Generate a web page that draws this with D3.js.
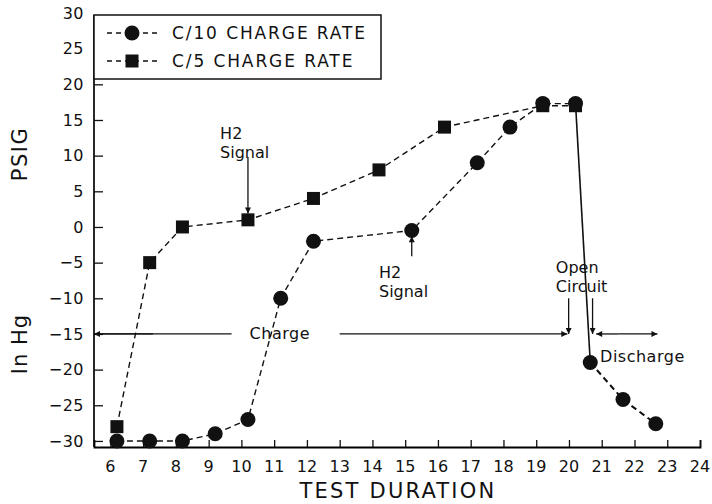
<!DOCTYPE html>
<html>
<head>
<meta charset="utf-8">
<script src="https://cdn.jsdelivr.net/npm/d3@7"></script>
<style>
body { margin: 0; background: #fff; }
text { font-family: "DejaVu Sans", sans-serif; fill: #111; }
</style>
</head>
<body>
<script>
"use strict";

// C/10 charge rate (circles)
var c10X = [6.2, 7.2, 8.2, 9.2, 10.2, 11.2, 12.2, 15.2, 17.2, 18.2, 19.2, 20.2];
var c10Y = [-30, -30, -30, -29, -27, -10, -2, -0.5, 9, 14, 17.3, 17.3];
// discharge after open circuit
var disX = [20.65, 21.65, 22.65];
var disY = [-19, -24.2, -27.6];

// C/5 charge rate (squares)
var c5X = [6.2, 7.2, 8.2, 10.2, 12.2, 14.2, 16.2, 19.2, 20.2];
var c5Y = [-28, -5, 0, 1, 4, 8, 14, 17, 17];

var xTicks = [6, 7, 8, 9, 10, 11, 12, 13, 14, 15, 16, 17, 18, 19, 20, 21, 22, 23, 24];
var yTicks = [-30, -25, -20, -15, -10, -5, 0, 5, 10, 15, 20, 25, 30];
var legendLabels = ["C/10 CHARGE RATE", "C/5 CHARGE RATE"];

var width = 712;
var height = 504;

var margin = { top: 13, left: 94, right: 12, bottom: 57 };

var xScale = d3.scaleLinear().domain([5.5, 24]).range([margin.left, width - margin.right]);
var yScale = d3.scaleLinear().domain([-30.85, 30]).range([height - margin.bottom, margin.top]);

var svg = d3.select("body").append("svg")
	.attr("width", width)
	.attr("height", height);

var defs = svg.append("defs");
defs.append("marker")
	.attr("id", "arrow")
	.attr("viewBox", "0 0 10 10")
	.attr("refX", 10)
	.attr("refY", 5)
	.attr("markerWidth", 10)
	.attr("markerHeight", 6)
	.attr("markerUnits", "userSpaceOnUse")
	.attr("orient", "auto")
	.append("path")
	.attr("d", "M0,0 L10,5 L0,10 Z")
	.attr("fill", "#111");

// axes: left + bottom, ticks pointing inward
var yAxis = svg.append("g")
	.attr("transform", "translate(" + margin.left + ",0)")
	.call(d3.axisRight(yScale).tickValues(yTicks.filter(function(d) { return d <= 20; })).tickSize(9).tickFormat(""));
yAxis.select(".domain").remove();
svg.append("line")
	.attr("x1", margin.left).attr("x2", margin.left)
	.attr("y1", yScale(yScale.domain()[0])).attr("y2", 15)
	.attr("stroke", "#111").attr("stroke-width", 1.8);

var xAxis = svg.append("g")
	.attr("transform", "translate(0," + (height - margin.bottom) + ")")
	.call(d3.axisTop(xScale).tickValues(xTicks).tickSize(7).tickFormat(""));
xAxis.select(".domain").attr("stroke-width", 1.8);
svg.selectAll(".tick line").attr("stroke", "#111").attr("stroke-width", 1.3);

// tick labels
svg.append("g").selectAll("text")
	.data(yTicks)
	.enter().append("text")
	.attr("x", 84)
	.attr("y", function(d) { return yScale(d); })
	.attr("dy", "0.36em")
	.attr("text-anchor", "end")
	.style("font-size", "16px")
	.style("letter-spacing", "0.5px")
	.text(function(d) { return d < 0 ? "\u2212" + Math.abs(d) : d; });

svg.append("g").selectAll("text")
	.data(xTicks)
	.enter().append("text")
	.attr("x", function(d) { return xScale(d); })
	.attr("y", 472)
	.attr("text-anchor", "middle")
	.style("font-size", "16px")
	.text(function(d) { return d; });

svg.append("text")
	.attr("x", 398).attr("y", 498)
	.attr("text-anchor", "middle")
	.style("font-size", "21px")
	.style("letter-spacing", "2.2px")
	.text("TEST DURATION");

svg.append("text")
	.attr("transform", "translate(27,154) rotate(-90)")
	.attr("text-anchor", "middle")
	.style("font-size", "21px")
	.style("letter-spacing", "1.5px")
	.text("PSIG");
svg.append("text")
	.attr("transform", "translate(27,344) rotate(-90)")
	.attr("text-anchor", "middle")
	.style("font-size", "21px")
	.style("letter-spacing", "1px")
	.text("In  Hg");

// series lines
var line = d3.line()
	.x(function(d) { return xScale(d[0]); })
	.y(function(d) { return yScale(d[1]); });

var c10 = d3.zip(c10X, c10Y);
var dis = d3.zip(disX, disY);
var c5 = d3.zip(c5X, c5Y);

var lines = svg.append("g").attr("fill", "none").attr("stroke", "#111").attr("stroke-width", 1.4);
lines.append("path").datum(c10).attr("d", line).attr("stroke-dasharray", "6,4");
lines.append("path").datum(c5).attr("d", line).attr("stroke-dasharray", "6,4");
lines.append("path").datum(dis).attr("d", line).attr("stroke-dasharray", "6,4").attr("stroke-width", 2);
// open circuit drop
lines.append("path").datum([c10[c10.length - 1], dis[0]]).attr("d", line).attr("stroke-width", 1.6);

// markers
svg.append("g").selectAll("rect")
	.data(c5)
	.enter().append("rect")
	.attr("x", function(d) { return xScale(d[0]) - 6.5; })
	.attr("y", function(d) { return yScale(d[1]) - 6.5; })
	.attr("width", 13).attr("height", 13)
	.attr("fill", "#111");

svg.append("g").selectAll("circle")
	.data(c10.concat(dis))
	.enter().append("circle")
	.attr("cx", function(d) { return xScale(d[0]); })
	.attr("cy", function(d) { return yScale(d[1]); })
	.attr("r", 7.5)
	.attr("fill", "#111");

// legend
var legend = svg.append("g");
legend.append("rect")
	.attr("x", margin.left).attr("y", 15)
	.attr("width", 287).attr("height", 64)
	.attr("fill", "#fff").attr("stroke", "#111").attr("stroke-width", 1.5);
legendLabels.forEach(function(lab, i) {
	var ly = 33 + i * 28;
	legend.append("line")
		.attr("x1", 107).attr("x2", 160).attr("y1", ly).attr("y2", ly)
		.attr("stroke", "#111").attr("stroke-width", 1.4).attr("stroke-dasharray", "5,4");
	if (i === 0) {
		legend.append("circle").attr("cx", 132).attr("cy", ly).attr("r", 7.5).attr("fill", "#111");
	} else {
		legend.append("rect").attr("x", 125.5).attr("y", ly - 6.5).attr("width", 13).attr("height", 13).attr("fill", "#111");
	}
	legend.append("text")
		.attr("x", 172).attr("y", ly)
		.attr("dy", "0.36em")
		.style("font-size", "17px")
		.style("letter-spacing", "1.9px")
		.text(lab);
});

// annotations (data coords)
var arrows = [
	[10.2, 9.8, 10.2, 1.9],     // H2 signal (C/5)
	[15.2, -4.1, 15.2, -1.3],   // H2 signal (C/10)
	[19.99, -10, 19.99, -15],   // open circuit
	[20.72, -10, 20.72, -15],
	[7.3, -15, 5.5, -15],       // charge, left
	[13.0, -15, 19.95, -15],    // charge, right
	[21.5, -15, 20.83, -15],    // discharge
	[21.5, -15, 22.7, -15]
];
var chargeGap = [[5.5, -15], [9.7, -15]];

var ann = svg.append("g").attr("stroke", "#111").attr("stroke-width", 1.3);
ann.selectAll("line.arr")
	.data(arrows)
	.enter().append("line")
	.attr("class", "arr")
	.attr("x1", function(d) { return xScale(d[0]); })
	.attr("y1", function(d) { return yScale(d[1]); })
	.attr("x2", function(d) { return xScale(d[2]); })
	.attr("y2", function(d) { return yScale(d[3]); })
	.attr("marker-end", "url(#arrow)");
ann.append("path").datum(chargeGap).attr("d", line);

var notes = [
	{ x: 9.35, y: 12.3, t: ["H2", "Signal"] },
	{ x: 14.2, y: -7.2, t: ["H2", "Signal"] },
	{ x: 19.6, y: -6.5, t: ["Open", "Circuit"] }
];
notes.forEach(function(n) {
	n.t.forEach(function(s, i) {
		svg.append("text")
			.attr("x", xScale(n.x))
			.attr("y", yScale(n.y) + i * 19)
			.style("font-size", "16px")
			.text(s);
	});
});
svg.append("text").attr("x", xScale(10.25)).attr("y", yScale(-15) + 5).style("font-size", "16px").style("letter-spacing", "0.5px").text("Charge");
svg.append("text").attr("x", xScale(20.95)).attr("y", yScale(-19)).style("font-size", "16px").style("letter-spacing", "0.5px").text("Discharge");
</script>
</body>
</html>
